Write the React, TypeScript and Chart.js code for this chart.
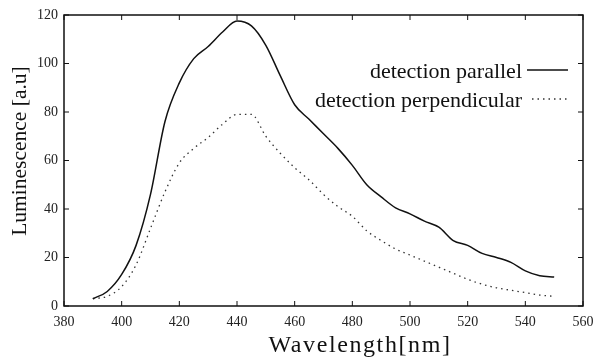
import React, { useEffect, useRef } from "react";
import { Chart, registerables } from "chart.js";

Chart.register(...registerables);

const wavelengths = [390, 395, 400, 405, 410, 415, 420, 425, 430, 435, 440, 445, 450, 455, 460, 465, 470, 475, 480, 485, 490, 495, 500, 505, 510, 515, 520, 525, 530, 535, 540, 545, 550];
const parallelValues = [3, 6, 13, 25, 46, 76, 92, 102, 107, 113, 117.5, 115.5, 107.5, 95, 83, 77, 71, 65, 58, 50, 45, 40.5, 38, 35, 32.5, 27, 25, 21.7, 20, 18, 14.5, 12.5, 12];
const perpendicularValues = [3, 4, 8, 17, 32, 47, 59, 65, 69.5, 75, 79, 79, 70, 63, 57, 52, 46, 41, 37, 31, 27, 23.5, 21, 18.5, 16, 13.5, 11, 9, 7.5, 6.5, 5.5, 4.5, 4];
const xTicks = [380, 400, 420, 440, 460, 480, 500, 520, 540, 560];
const yTicks = [0, 20, 40, 60, 80, 100, 120];
const seriesLabels = ["detection parallel", "detection perpendicular"];
const xTitle = "Wavelength[nm]";
const yTitle = "Luminescence [a.u]";

const FONT = "'Liberation Serif', 'Times New Roman', serif";

const framePlugin = {
  id: "frame",
  afterDraw(chart: any) {
    const { ctx, chartArea } = chart;
    const { left, right, top, bottom } = chartArea;
    const xs = chart.scales.x;
    const ys = chart.scales.y;
    ctx.save();
    ctx.strokeStyle = "#111";
    ctx.lineWidth = 1.5;
    ctx.beginPath();
    ctx.moveTo(left, top);
    ctx.lineTo(right, top);
    ctx.lineTo(right, bottom);
    ctx.lineTo(left, bottom);
    ctx.closePath();
    ctx.stroke();
    ctx.lineWidth = 1;
    ctx.beginPath();
    xTicks.forEach((v) => {
      const px = xs.getPixelForValue(v);
      ctx.moveTo(px, bottom);
      ctx.lineTo(px, bottom - 5);
      ctx.moveTo(px, top);
      ctx.lineTo(px, top + 5);
    });
    yTicks.forEach((v) => {
      const py = ys.getPixelForValue(v);
      ctx.moveTo(left, py);
      ctx.lineTo(left + 5, py);
      ctx.moveTo(right, py);
      ctx.lineTo(right - 5, py);
    });
    ctx.stroke();

    // titles
    ctx.fillStyle = "#111";
    ctx.textBaseline = "alphabetic";
    ctx.save();
    ctx.font = `24px ${FONT}`;
    ctx.textAlign = "left";
    try { (ctx as any).letterSpacing = "1.6px"; } catch (e) {}
    const w = ctx.measureText(xTitle).width;
    ctx.fillText(xTitle, 360 - w / 2, 352);
    ctx.restore();
    ctx.save();
    ctx.translate(26, 151);
    ctx.rotate(-Math.PI / 2);
    ctx.textAlign = "center";
    ctx.font = `21.5px ${FONT}`;
    ctx.fillText(yTitle, 0, 0);
    ctx.restore();

    // legend
    ctx.font = `22px ${FONT}`;
    ctx.textAlign = "right";
    ctx.fillText(seriesLabels[0], 522, 78);
    ctx.fillText(seriesLabels[1], 522, 107);
    ctx.strokeStyle = "#111";
    ctx.lineWidth = 1.5;
    ctx.beginPath();
    ctx.moveTo(527, 70);
    ctx.lineTo(568, 70);
    ctx.stroke();
    ctx.strokeStyle = "#333";
    ctx.lineWidth = 1.3;
    ctx.setLineDash([1.5, 4]);
    ctx.beginPath();
    ctx.moveTo(532, 99);
    ctx.lineTo(568, 99);
    ctx.stroke();
    ctx.restore();
  },
};

export default function App() {
  const ref = useRef<HTMLCanvasElement | null>(null);
  useEffect(() => {
    if (!ref.current) return;
    const chart = new Chart(ref.current, {
      type: "line",
      data: {
        datasets: [
          {
            label: seriesLabels[0],
            data: wavelengths.map((w, i) => ({ x: w, y: parallelValues[i] })),
            borderColor: "#111",
            borderWidth: 1.5,
            pointRadius: 0,
            cubicInterpolationMode: "monotone",
          },
          {
            label: seriesLabels[1],
            data: wavelengths.map((w, i) => ({ x: w, y: perpendicularValues[i] })),
            borderColor: "#333",
            borderWidth: 1.3,
            borderDash: [1.5, 4],
            pointRadius: 0,
            cubicInterpolationMode: "monotone",
          },
        ],
      },
      options: {
        animation: false,
        responsive: true,
        maintainAspectRatio: false,
        layout: { padding: { left: 0, right: 0, top: 15, bottom: 0 } },
        plugins: { legend: { display: false }, tooltip: { enabled: false } },
        scales: {
          x: {
            type: "linear",
            min: 380,
            max: 560,
            afterFit: (s: any) => { s.height = 55; s.paddingRight = 11; s.paddingLeft = 0; },
            afterBuildTicks: (s: any) => { s.ticks = xTicks.map((v) => ({ value: v })); },
            ticks: { font: { family: FONT, size: 14 }, color: "#222", padding: 8, maxRotation: 0 },
            grid: { drawOnChartArea: false, drawTicks: false },
            border: { display: false },
          },
          y: {
            min: 0,
            max: 120,
            afterFit: (s: any) => { s.width = 64; s.paddingTop = 0; s.paddingBottom = 0; },
            afterBuildTicks: (s: any) => { s.ticks = yTicks.map((v) => ({ value: v })); },
            ticks: { font: { family: FONT, size: 14 }, color: "#222", padding: 6 },
            grid: { drawOnChartArea: false, drawTicks: false },
            border: { display: false },
          },
        },
      },
      plugins: [framePlugin],
    });
    return () => chart.destroy();
  }, []);
  return (
    <div style={{ position: "fixed", left: 0, top: 0, width: 594, height: 361, background: "#fff" }}>
      <canvas ref={ref} />
    </div>
  );
}
